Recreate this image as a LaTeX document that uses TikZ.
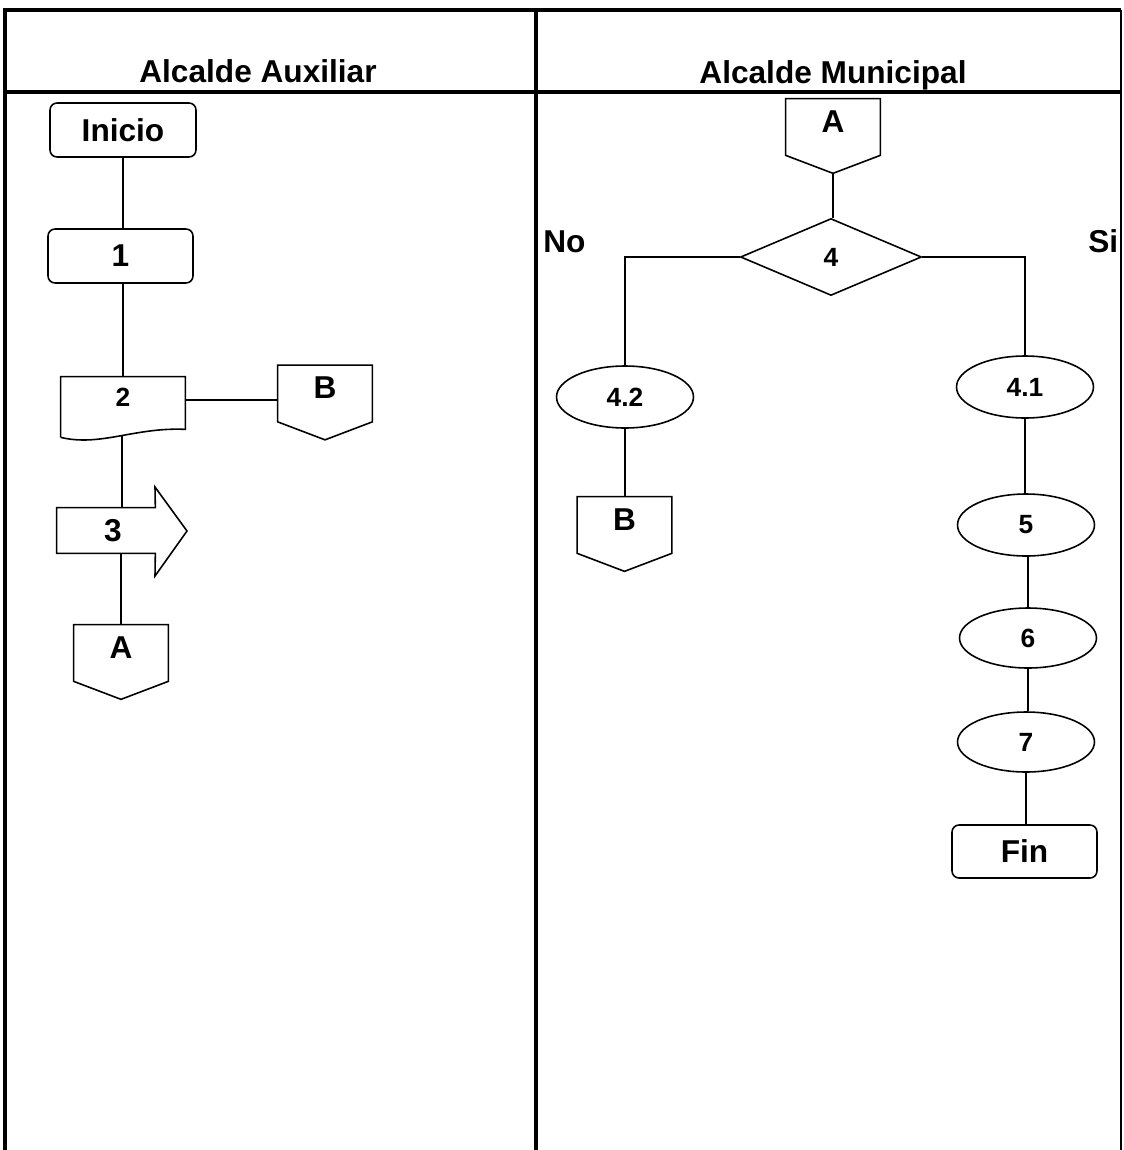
\documentclass[tikz,border=0pt]{standalone}
\usepackage{fontspec}
\setmainfont{Liberation Sans}
\usetikzlibrary{shapes.geometric}
\begin{document}
\begin{tikzpicture}[x=0.02cm,y=-0.02cm,
  ln/.style={line width=0.9pt},
  fr/.style={line width=1.8pt},
  big/.style={font=\fontsize{18}{20}\selectfont\bfseries},
  sml/.style={font=\fontsize{15}{17}\selectfont\bfseries},
  term/.style={draw,ln,rounded corners=4pt,inner sep=0pt,big},
  proc/.style={draw,ln,ellipse,minimum width=2.74cm,minimum height=1.24cm,inner sep=0pt,sml},
  dec/.style={draw,ln,diamond,minimum width=3.62cm,minimum height=1.54cm,inner sep=0pt,sml},
  offp/.style={inner sep=0pt,minimum width=1.88cm,minimum height=1.48cm},
  hid/.style={inner sep=0pt}
]
\useasboundingbox (0,0) rectangle (1124,1150);
% frame
\draw[fr] (5,1150) -- (5,10) -- (1121,10);
\draw[fr] (536,10) -- (536,1150);
\draw[fr] (5,92) -- (1121,92);
\draw[line width=1.2pt] (1121,10) -- (1121,1150);
% titles
\node[big,hid,anchor=base] (t1) at (258,82) {Alcalde Auxiliar};
\node[big,hid,anchor=base] (t2) at (833,83) {Alcalde Municipal};
% left lane
\node[term,minimum width=2.92cm,minimum height=1.08cm] (ini) at (123,130) {Inicio};
\node[term,minimum width=2.9cm,minimum height=1.08cm] (p1) at (120.5,256) {1};
\node[hid,minimum width=2.48cm,minimum height=1.2cm] (d2) at (123,407) {};
\draw[ln] (d2.south west) -- (d2.north west) -- (d2.north east) -- ([yshift=0.16cm]d2.south east)
  .. controls (135,427) and (100,447) .. (d2.south west);
\node[sml] (d2t) at (123,397) {2};
\coordinate (d2b) at (122,436);
\node[offp] (B1) at (325,402.5) {};
\draw[ln] (B1.north west) -- (B1.north east) -- ([yshift=0.36cm]B1.south east) -- (B1.south)
  -- ([yshift=0.36cm]B1.south west) -- cycle;
\node[big] (B1t) at (325,388) {B};
\coordinate (B1in) at (278,400);
\node[hid,minimum width=1.96cm,minimum height=0.9cm] (a3) at (106,530.5) {};
\draw[ln] (a3.north west) -- (a3.north east) -- (155,487) -- (187,531) -- (155,576)
  -- (a3.south east) -- (a3.south west) -- cycle;
\node[big] (a3t) at (113,531) {3};
\node[offp] (A1) at (121,662) {};
\draw[ln] (A1.north west) -- (A1.north east) -- ([yshift=0.36cm]A1.south east) -- (A1.south)
  -- ([yshift=0.36cm]A1.south west) -- cycle;
\node[big] (A1t) at (121,648) {A};
% left connectors
\draw[ln] (ini.south) -- (ini.south |- p1.north);
\draw[ln] (ini.south |- p1.south) -- (ini.south |- d2.north);
\draw[ln] (d2.east |- B1in) -- (B1in);
\draw[ln] (d2b) -- (d2b |- a3.north);
\draw[ln] (A1.north |- a3.south) -- (A1.north);
% right lane
\node[offp] (A2) at (833,136) {};
\draw[ln] (A2.north west) -- (A2.north east) -- ([yshift=0.36cm]A2.south east) -- (A2.south)
  -- ([yshift=0.36cm]A2.south west) -- cycle;
\node[big] (A2t) at (833,122) {A};
\node[dec] (d4) at (831,257) {4};
\node[big,hid,anchor=base west] (no) at (543,252) {No};
\node[big,hid,anchor=base west] (si) at (1088,252) {Si};
\node[proc] (p42) at (625,397) {4.2};
\node[offp] (B2) at (624.5,534) {};
\draw[ln] (B2.north west) -- (B2.north east) -- ([yshift=0.36cm]B2.south east) -- (B2.south)
  -- ([yshift=0.36cm]B2.south west) -- cycle;
\node[big] (B2t) at (624.5,520) {B};
\node[proc] (p41) at (1025,387) {4.1};
\node[proc] (p5) at (1026,525) {5};
\node[proc,minimum height=1.2cm] (p6) at (1028,638) {6};
\node[proc,minimum height=1.2cm] (p7) at (1026,742) {7};
\node[term,minimum width=2.9cm,minimum height=1.06cm] (fin) at (1024.5,851.5) {Fin};
% right connectors
\draw[ln] (A2.south) -- (A2.south |- d4.north);
\draw[ln] (d4.west) -| (p42.north);
\draw[ln] (d4.east) -| (p41.north);
\draw[ln] (p42.south) -- (p42.south |- B2.north);
\draw[ln] (p41.south) -- (p41.south |- p5.north);
\draw[ln] (p6.north |- p5.south) -- (p6.north);
\draw[ln] (p6.south) -- (p6.south |- p7.north);
\draw[ln] (p7.south) -- (p7.south |- fin.north);
\end{tikzpicture}
\end{document}
